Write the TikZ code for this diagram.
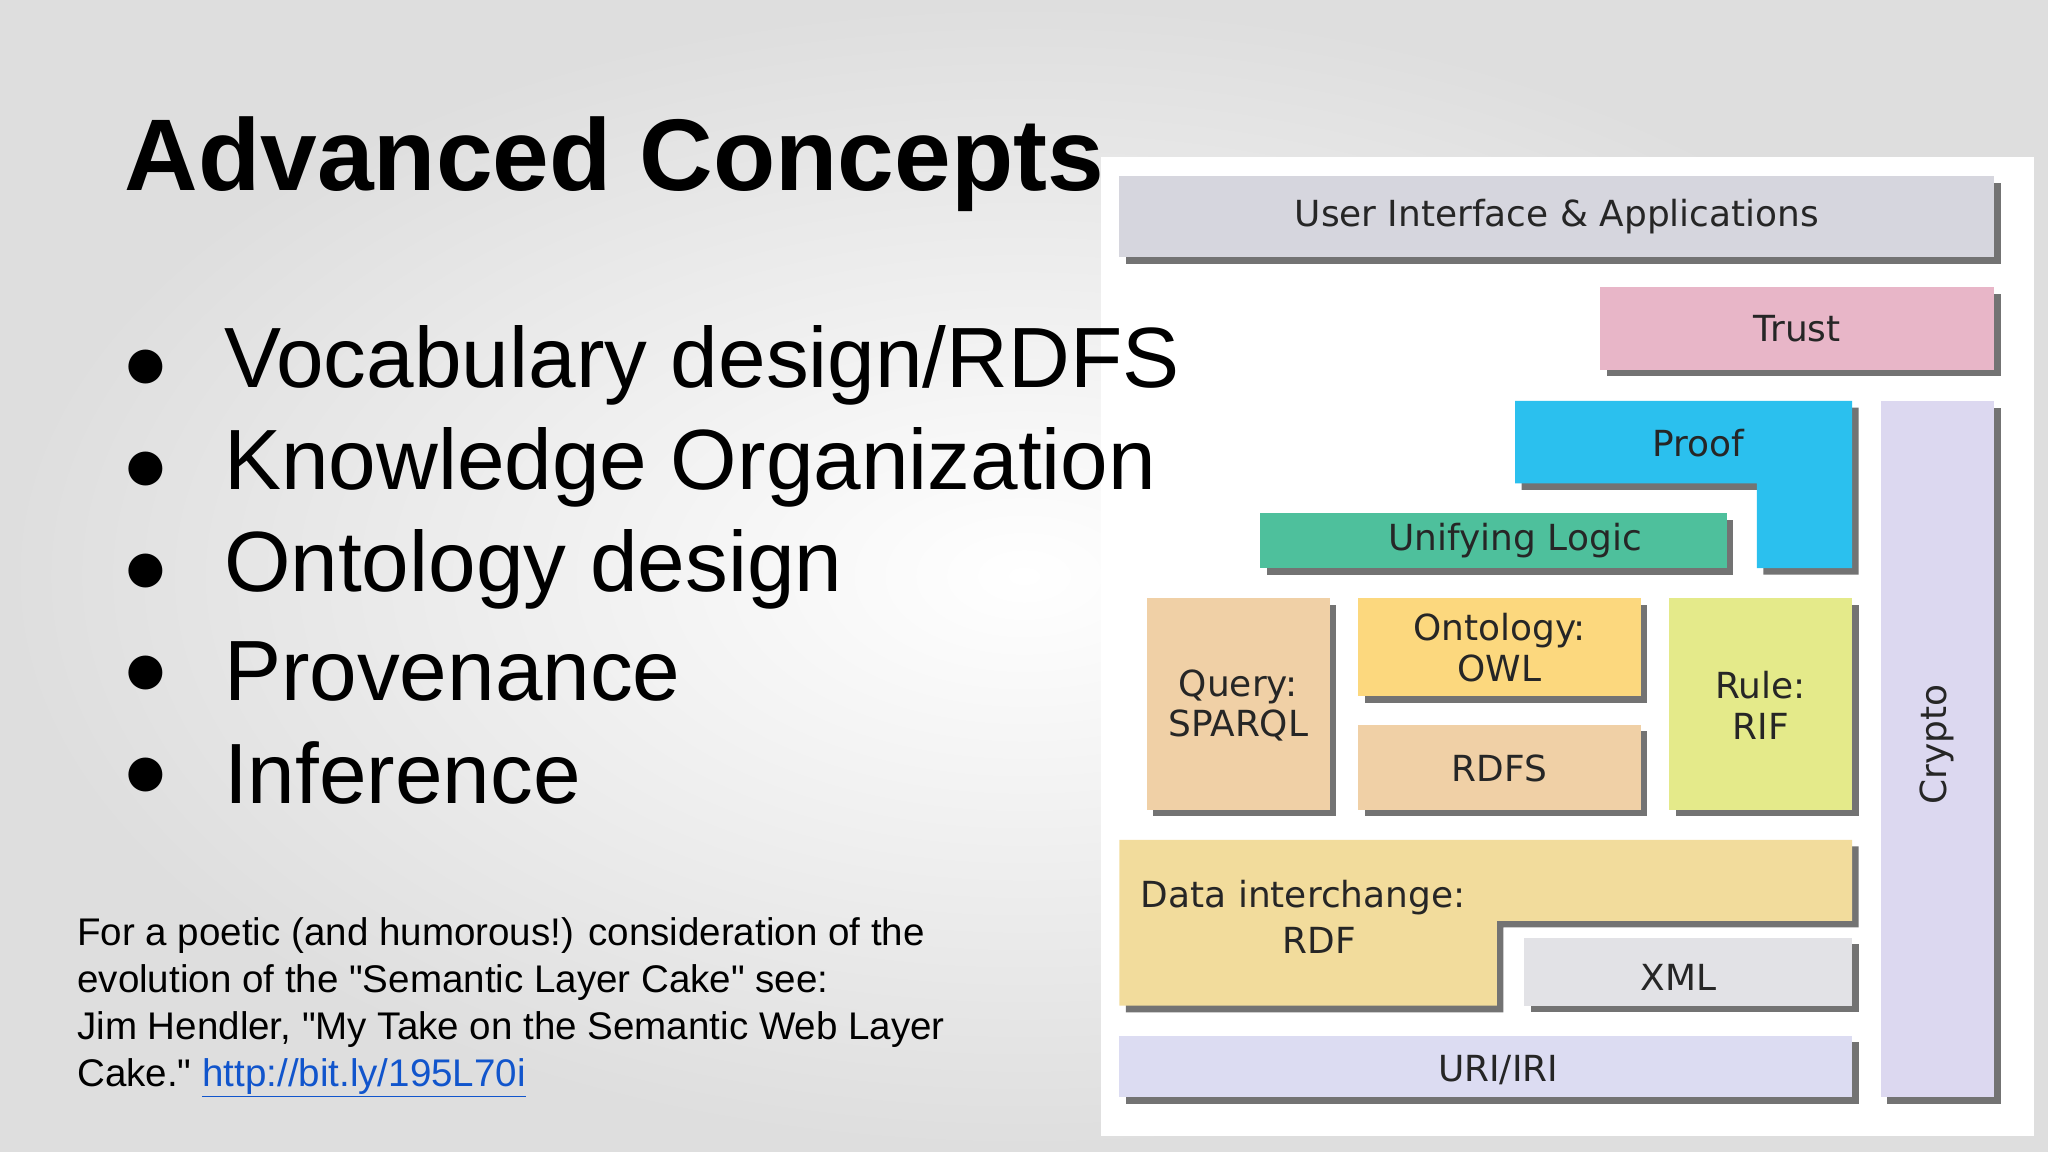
\documentclass[tikz,border=0pt]{standalone}
\usepackage{fontspec}
\setmainfont{Liberation Sans}
\newfontfamily\cakefont{DejaVu Sans}
\usetikzlibrary{shadings}
\definecolor{uigray}{HTML}{D6D6DE}
\definecolor{trustc}{HTML}{E8B6C8}
\definecolor{proofc}{HTML}{2BC0EE}
\definecolor{cryptoc}{HTML}{DCD8F0}
\definecolor{logicc}{HTML}{4EC09C}
\definecolor{tanc}{HTML}{F0D0A6}
\definecolor{owlc}{HTML}{FCD87E}
\definecolor{rulec}{HTML}{E4EA8A}
\definecolor{datac}{HTML}{F2DC9C}
\definecolor{xmlc}{HTML}{E2E2E6}
\definecolor{uric}{HTML}{DCDCF2}
\definecolor{linkc}{HTML}{1155CC}
\begin{document}
\begin{tikzpicture}[x=1pt,y=-1pt,
  shad/.style={fill=black!55},
  ctext/.style={font=\cakefont\fontsize{27.5}{31}\selectfont,align=center,text=black!85}]
\useasboundingbox (0,0) rectangle (1568,882);
\shade[inner color=white,outer color=black!13] (0,0) rectangle (1568,882);
\fill[white] (843,120) rectangle (1557,870);
\newcommand\cbox[5]{\fill[shad] (#1+5,#2+5) rectangle (#3+5,#4+5);\fill[#5] (#1,#2) rectangle (#3,#4);}
\cbox{857}{135}{1527}{197}{uigray}
\cbox{1225}{220}{1527}{283}{trustc}
\cbox{1440}{307}{1527}{840}{cryptoc}
\fill[shad] (1165,312)--(1423,312)--(1423,440)--(1350,440)--(1350,375)--(1165,375)--cycle;
\fill[proofc] (1160,307)--(1418,307)--(1418,435)--(1345,435)--(1345,370)--(1160,370)--cycle;
\cbox{965}{393}{1322}{435}{logicc}
\cbox{878}{458}{1018}{620}{tanc}
\cbox{1040}{458}{1256}{533}{owlc}
\cbox{1040}{555}{1256}{620}{tanc}
\cbox{1278}{458}{1418}{620}{rulec}
\fill[shad] (862,648)--(1423,648)--(1423,710)--(1151,710)--(1151,775)--(862,775)--cycle;
\fill[datac] (857,643)--(1418,643)--(1418,705)--(1146,705)--(1146,770)--(857,770)--cycle;
\cbox{1167}{718}{1418}{770}{xmlc}
\cbox{857}{793}{1418}{840}{uric}
\node[ctext] (ui) at (1192,166) {User Interface \& Applications};
\node[ctext] (trust) at (1376,252) {Trust};
\node[ctext] (proof) at (1300,339) {Proof};
\node[ctext,rotate=90] (crypto) at (1483,570) {Crypto};
\node[ctext] (logic) at (1160,414) {Unifying Logic};
\node[ctext] (query) at (948,540) {Query:\\SPARQL};
\node[ctext] (owl) at (1148,496) {Ontology:\\OWL};
\node[ctext] (rdfs) at (1148,588) {RDFS};
\node[ctext] (rule) at (1348,540) {Rule:\\RIF};
\node[ctext,align=left,anchor=north west] (data) at (870,670) {Data interchange:};
\node[ctext] (rdf) at (1010,720) {RDF};
\node[ctext] (xml) at (1285,748) {XML};
\node[ctext] (uri) at (1147,819) {URI/IRI};
\node[anchor=west,font=\bfseries\fontsize{78}{80}\selectfont] (title) at (92,126) {Advanced Concepts};
\foreach \t [count=\i] in {Vocabulary design/RDFS,Knowledge Organization,Ontology design,Provenance,Inference}{
  \node[anchor=west,font=\fontsize{65.5}{66}\selectfont] (b\i) at (168,280+78*\i-78) {\t};
  \node[font=\cakefont\fontsize{34}{34}\selectfont] (d\i) at (112,281+78*\i-78) {●};
}
\node[anchor=north west,align=left,font=\fontsize{29.5}{36}\selectfont,inner sep=0pt] (note) at (59,702) {For a poetic (and humorous!) consideration of the\\evolution of the \textquotedbl Semantic Layer Cake\textquotedbl\ see:\\Jim Hendler, \textquotedbl My Take on the Semantic Web Layer\\Cake.\textquotedbl\ \textcolor{linkc}{\underline{http://bit.ly/195L70i}}};
\end{tikzpicture}
\end{document}
